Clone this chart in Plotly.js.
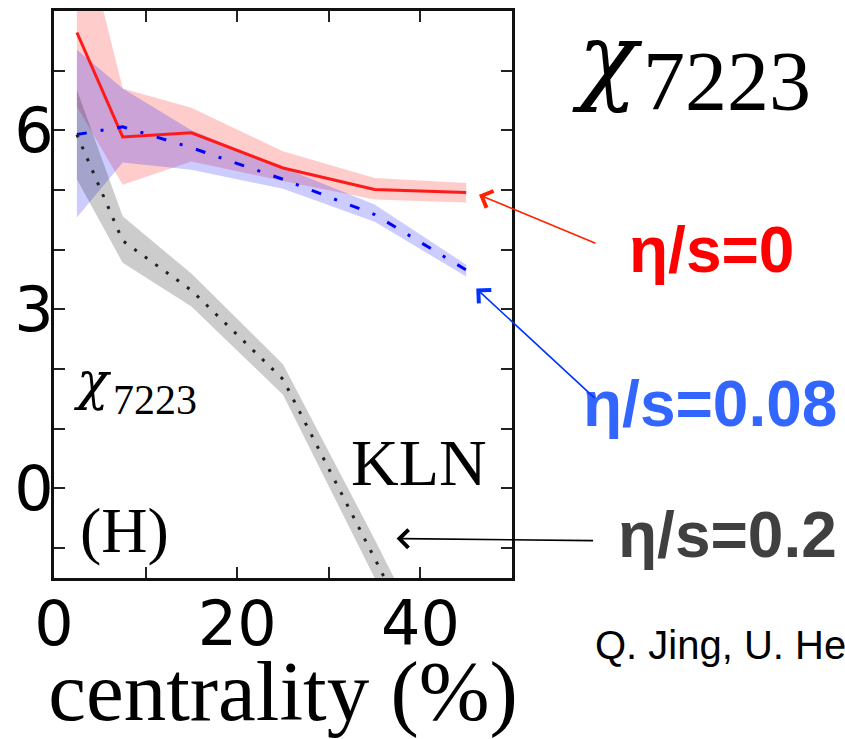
<!DOCTYPE html>
<html>
<head>
<meta charset="utf-8">
<script src="https://cdn.plot.ly/plotly-3.0.1.min.js"></script>
<style>html,body{margin:0;padding:0;background:#fff;}#chart{width:845px;height:739px;}</style>
</head>
<body>
<div id="chart"></div>
<script>
// ---- data ----
const centrality = [2.5, 7.5, 15, 25, 35, 45];

const ideal      = [7.64, 5.89, 5.96, 5.37, 5.01, 4.96];   // eta/s = 0
const idealUp    = [9.8, 6.7, 6.38, 5.65, 5.2, 5.12];
const idealLo    = [6.4, 5.09, 5.48, 5.15, 4.84, 4.79];

const visc008    = [5.93, 6.06, 5.71, 5.18, 4.59, 3.66];   // eta/s = 0.08
const visc008Up  = [7.35, 6.7, 6.0, 5.38, 4.76, 3.75];
const visc008Lo  = [4.54, 5.46, 5.34, 5.02, 4.47, 3.55];

const visc02     = [5.93, 4.15, 3.32, 1.83, -1.17, -4.2];  // eta/s = 0.2
const visc02Up   = [6.68, 4.56, 3.6, 2.08, -0.85, -3.9];
const visc02Lo   = [5.18, 3.78, 3.05, 1.57, -1.5, -4.5];

const xTickVals = [0, 10, 20, 30, 40, 50];
const xTickText = ['0', '', '20', '', '40', ''];
const yTickVals = [-1, 0, 1, 2, 3, 4, 5, 6, 7];
const yTickText = ['', '0', '', '', '3', '', '', '6', ''];

// ---- helpers ----
function band(x, up, lo, color) {
  return {
    x: x.concat(x.slice().reverse()),
    y: up.concat(lo.slice().reverse()),
    type: 'scatter', mode: 'lines', fill: 'toself',
    fillcolor: color, line: {width: 0}, hoverinfo: 'skip', showlegend: false
  };
}
const L = 54, R = 512, T = 11, B = 578;
const px = p => (p - L) / (R - L);
const py = p => (B - p) / (B - T);

const data = [
  band(centrality, idealUp, idealLo, 'rgba(255,0,0,0.2)'),
  band(centrality, visc008Up, visc008Lo, 'rgba(0,0,255,0.2)'),
  band(centrality, visc02Up, visc02Lo, 'rgba(0,0,0,0.2)'),
  {x: centrality, y: ideal, type: 'scatter', mode: 'lines', name: 'η/s=0',
   line: {color: '#ff1a1a', width: 3}},
  {x: centrality, y: visc008, type: 'scatter', mode: 'lines', name: 'η/s=0.08',
   line: {color: '#0000ff', width: 3, dash: '10px,14px,3px,14px'}},
  {x: centrality, y: visc02, type: 'scatter', mode: 'lines', name: 'η/s=0.2',
   line: {color: '#222222', width: 3, dash: '3px,10px'}}
];

const serif = 'Liberation Serif, Times New Roman, serif';
const sans = 'Liberation Sans, Arial, sans-serif';

const layout = {
  width: 845, height: 739,
  margin: {l: L, r: 845 - R, t: T, b: 739 - B, pad: 0},
  paper_bgcolor: '#fff', plot_bgcolor: '#fff',
  showlegend: false,
  xaxis: {
    range: [0, 50], tickmode: 'array', tickvals: xTickVals, ticktext: xTickText,
    ticks: 'inside', ticklen: 11, tickwidth: 2, tickcolor: '#222',
    showline: true, linecolor: '#111', linewidth: 3, mirror: 'ticks',
    showgrid: false, zeroline: false, ticklabelstandoff: -10,
    tickfont: {family: 'DejaVu Sans', size: 62, color: '#000'},
    title: {text: 'centrality (%)', font: {family: serif, size: 85, color: '#000'}}
  },
  yaxis: {
    range: [-1.5, 8], tickmode: 'array', tickvals: yTickVals, ticktext: yTickText,
    ticks: 'inside', ticklen: 11, tickwidth: 2, tickcolor: '#222',
    showline: true, linecolor: '#111', linewidth: 3, mirror: 'ticks',
    showgrid: false, zeroline: false, ticklabelstandoff: -15,
    tickfont: {family: 'DejaVu Sans', size: 62, color: '#000'}
  },
  annotations: [
    // big title chi_7223
    {xref: 'paper', yref: 'paper', x: px(570), y: py(58), xanchor: 'left', yanchor: 'middle',
     showarrow: false, text: '<i>χ</i>', font: {family: 'DejaVu Serif', size: 98, color: '#000'}},
    {xref: 'paper', yref: 'paper', x: px(641), y: py(81), xanchor: 'left', yanchor: 'middle',
     showarrow: false, text: '7223', font: {family: serif, size: 84, color: '#000'}},
    // inner chi_7223
    {xref: 'paper', yref: 'paper', x: px(71), y: py(381), xanchor: 'left', yanchor: 'middle',
     showarrow: false, text: '<i>χ</i>', font: {family: 'DejaVu Serif', size: 52, color: '#000'}},
    {xref: 'paper', yref: 'paper', x: px(111), y: py(400), xanchor: 'left', yanchor: 'middle',
     showarrow: false, text: '7223', font: {family: serif, size: 42, color: '#000'}},
    {xref: 'paper', yref: 'paper', x: px(124), y: py(530), xanchor: 'center', yanchor: 'middle',
     showarrow: false, text: '(H)', font: {family: serif, size: 64, color: '#000'}},
    {xref: 'paper', yref: 'paper', x: px(419), y: py(462), xanchor: 'center', yanchor: 'middle',
     showarrow: false, text: 'KLN', font: {family: serif, size: 66, color: '#000'}},
    {xref: 'paper', yref: 'paper', x: px(711), y: py(250), xanchor: 'center', yanchor: 'middle',
     showarrow: false, text: '<b>η/s=0</b>', font: {family: sans, size: 64, color: '#ff0000'}},
    {xref: 'paper', yref: 'paper', x: px(710), y: py(404), xanchor: 'center', yanchor: 'middle',
     showarrow: false, text: '<b>η/s=0.08</b>', font: {family: sans, size: 64, color: '#3366ff'}},
    {xref: 'paper', yref: 'paper', x: px(727), y: py(535), xanchor: 'center', yanchor: 'middle',
     showarrow: false, text: '<b>η/s=0.2</b>', font: {family: sans, size: 64, color: '#404040'}},
    {xref: 'paper', yref: 'paper', x: px(593), y: py(645), xanchor: 'left', yanchor: 'middle',
     showarrow: false, text: 'Q. Jing, U. He', font: {family: sans, size: 40, color: '#000'}},
    // arrows
    {xref: 'x', yref: 'y', x: 46.4, y: 4.92, ax: 118, ay: 49, text: '', showarrow: true,
     arrowhead: 4, arrowsize: 2.2, arrowwidth: 1.6, arrowcolor: '#ff2200', standoff: 0},
    {xref: 'x', yref: 'y', x: 46.1, y: 3.35, ax: 120, ay: 111, text: '', showarrow: true,
     arrowhead: 4, arrowsize: 2.2, arrowwidth: 1.6, arrowcolor: '#0033ff', standoff: 0},
    {xref: 'x', yref: 'y', x: 37.4, y: -0.84, ax: 198, ay: 2, text: '', showarrow: true,
     arrowhead: 4, arrowsize: 2.2, arrowwidth: 1.6, arrowcolor: '#000', standoff: 0}
  ]
};

Plotly.newPlot('chart', data, layout, {staticPlot: true, displayModeBar: false});
</script>
</body>
</html>
